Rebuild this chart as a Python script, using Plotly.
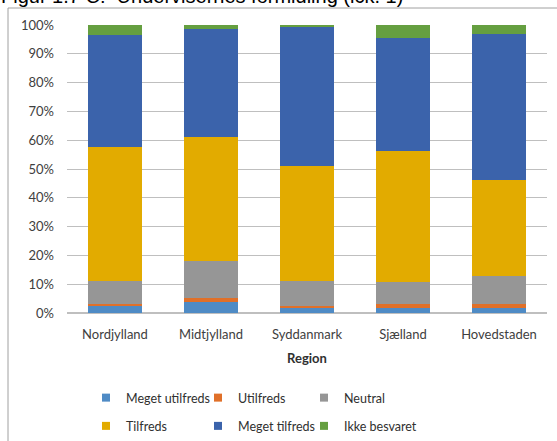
import plotly.graph_objects as go

regions = ["Nordjylland", "Midtjylland", "Syddanmark", "Sjælland", "Hovedstaden"]
meget_utilfreds = [2.4, 3.7, 1.9, 1.8, 1.8]
utilfreds = [0.9, 1.5, 0.4, 1.5, 1.2]
neutral = [7.8, 13.0, 8.8, 7.6, 10.0]
tilfreds = [46.4, 42.9, 39.8, 45.3, 33.3]
meget_tilfreds = [39.0, 37.4, 48.4, 39.4, 50.7]
ikke_besvaret = [3.5, 1.5, 0.7, 4.4, 3.0]
y_ticks = list(range(0, 101, 10))
y_tick_labels = [f"{v}%" for v in y_ticks]

series = [
    ("Meget utilfreds", meget_utilfreds, "#4F8BC5", "legend"),
    ("Utilfreds", utilfreds, "#E07029", "legend2"),
    ("Neutral", neutral, "#969696", "legend3"),
    ("Tilfreds", tilfreds, "#E2AB00", "legend"),
    ("Meget tilfreds", meget_tilfreds, "#3B63AB", "legend2"),
    ("Ikke besvaret", ikke_besvaret, "#659F40", "legend3"),
]

FONT = "Lato"
fig = go.Figure()
for name, vals, color, lg in series:
    fig.add_trace(go.Bar(
        name=name, x=regions, y=vals, marker=dict(color=color, line=dict(width=0)),
        legendgroup=name, showlegend=False,
    ))
# legend entries with small square keys
for name, vals, color, lg in series:
    fig.add_trace(go.Scatter(
        name=name, x=[None], y=[None], mode="markers",
        marker=dict(symbol="square", size=8, color=color),
        legend=lg, legendgroup=name, showlegend=True,
    ))

W, H = 557, 441
ml, mr, mt, mb = 67, 10, 25, 128
pw, ph = W - ml - mr, H - mt - mb

def px(x):
    return (x - ml) / pw

def py(y):
    return (H - mb - y) / ph

legend_common = dict(
    orientation="v", xanchor="left", yanchor="top", bgcolor="rgba(0,0,0,0)",
    font=dict(family=FONT, size=12.5, color="#303030"), tracegroupgap=9,
    itemwidth=30, traceorder="grouped",
)

fig.update_layout(
    width=W, height=H,
    margin=dict(l=ml, r=mr, t=mt, b=mb, autoexpand=False),
    barmode="stack", bargap=0.43,
    plot_bgcolor="white", paper_bgcolor="white",
    font=dict(family=FONT, size=13, color="#404040"),
    xaxis=dict(
        title=dict(text="<b>Region</b>", font=dict(family=FONT, size=13, color="#303030"), standoff=12),
        showgrid=False, showline=False, ticks="", tickfont=dict(size=13, color="#404040"),
        automargin=False, ticklabelstandoff=12,
    ),
    yaxis=dict(
        range=[0, 100], tickvals=y_ticks, ticktext=y_tick_labels,
        showgrid=True, gridcolor="#BFBFBF", gridwidth=1, zeroline=True, zerolinecolor="#BFBFBF",
        showline=False, ticks="", tickfont=dict(size=13, color="#404040"), automargin=False,
        ticklabelstandoff=12,
    ),
    legend=dict(x=px(86), y=py(383), **legend_common),
    legend2=dict(x=px(198), y=py(383), **legend_common),
    legend3=dict(x=px(304), y=py(383), **legend_common),
    shapes=[dict(
        type="rect", xref="paper", yref="paper",
        x0=px(8), x1=px(560), y0=py(445), y1=py(8),
        line=dict(color="#A0A0A0", width=1), fillcolor="rgba(0,0,0,0)", layer="below",
    )],
    annotations=[dict(
        text="Figur 1.7 C:  Undervisernes formidling (lck. 1)", xref="paper", yref="paper",
        x=px(-1), y=py(9), xanchor="left", yanchor="bottom", showarrow=False,
        font=dict(family="Liberation Sans", size=20, color="#000000"),
    )],
)

fig.write_html("out.html", config={"displayModeBar": False},
               post_script="document.body.style.margin='0';document.body.style.padding='0';")
